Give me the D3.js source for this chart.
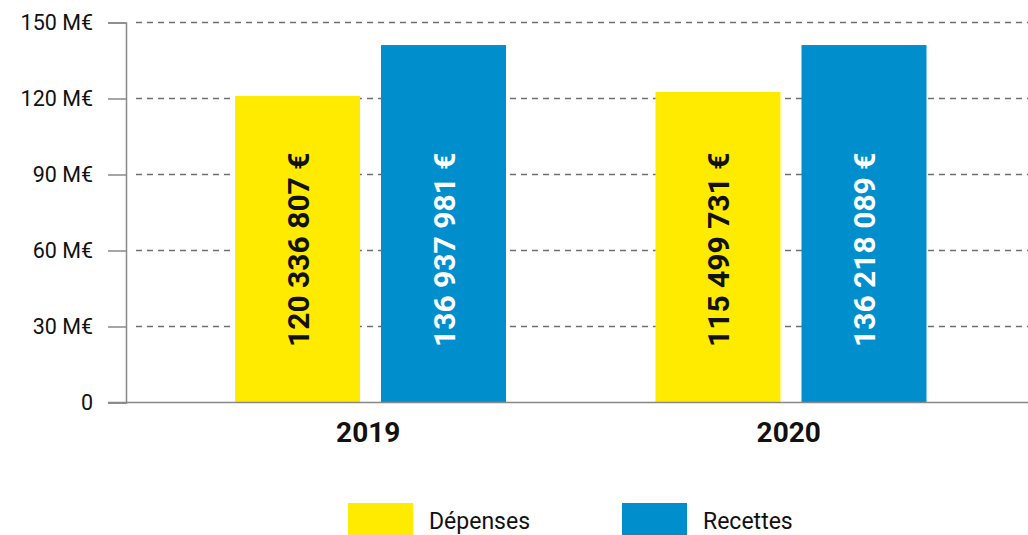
<!DOCTYPE html>
<html><head><meta charset="utf-8">
<script src="https://cdn.jsdelivr.net/npm/d3@7"></script>
<style>html,body{margin:0;padding:0;background:#fff;}svg{display:block;}</style>
</head><body>
<svg id="c" width="1028" height="535"></svg>
<script>
const years = ["2019", "2020"];
const seriesNames = ["Dépenses", "Recettes"];
const depenses = [121.0, 122.6];
const recettes = [141.1, 141.1];
const depensesLabels = ["120 336 807 €", "115 499 731 €"];
const recettesLabels = ["136 937 981 €", "136 218 089 €"];
const yTicks = [0, 30, 60, 90, 120, 150];
const colors = ["#FFEB00", "#008FCC"];
const labelColors = ["#111", "#fff"];

const svg = d3.select("#c");
const font = "Roboto, 'Open Sans', sans-serif";

const y = d3.scaleLinear().domain([0, 150]).range([402.5, 22.5]);
const x0 = d3.scaleBand().domain(years).range([160, 1001]).padding(0);
const x1 = d3.scaleBand().domain(seriesNames).range([75, 346]).paddingInner(21 / 146).paddingOuter(0);

// gridlines
svg.append("g").selectAll("line").data(yTicks.filter(d => d > 0)).join("line")
  .attr("x1", 136).attr("x2", 1028)
  .attr("y1", d => y(d)).attr("y2", d => y(d))
  .attr("stroke", "#707070").attr("stroke-width", 1.3).attr("stroke-dasharray", "6,5");

// y axis
const yAxis = d3.axisLeft(y).tickValues(yTicks).tickSize(18).tickPadding(15)
  .tickFormat(d => d === 0 ? "0" : d + " M€");
const ga = svg.append("g").attr("transform", "translate(126,0)").call(yAxis);
ga.select(".domain").attr("stroke", "#888").attr("stroke-width", 1.5);
ga.selectAll(".tick line").attr("stroke", "#888").attr("stroke-width", 1.5);
ga.selectAll(".tick text").attr("font-family", font).attr("font-size", 21.5).attr("fill", "#111");

// bars
const rows = years.map((yr, i) => ({ year: yr, vals: [
  { s: seriesNames[0], v: depenses[i], lab: depensesLabels[i], k: 0 },
  { s: seriesNames[1], v: recettes[i], lab: recettesLabels[i], k: 1 }
]}));
const grp = svg.append("g").selectAll("g").data(rows).join("g")
  .attr("transform", d => `translate(${x0(d.year)},0)`);
grp.selectAll("rect").data(d => d.vals).join("rect")
  .attr("x", d => x1(d.s)).attr("width", x1.bandwidth())
  .attr("y", d => y(d.v)).attr("height", d => y(0) - y(d.v))
  .attr("fill", d => colors[d.k]);
grp.selectAll("text.val").data(d => d.vals).join("text").attr("class", "val")
  .attr("transform", d => `translate(${x1(d.s) + x1.bandwidth() / 2 + 11},347) rotate(-90)`)
  .attr("text-anchor", "start")
  .attr("font-family", font).attr("font-weight", 700).attr("font-size", 30)
  .attr("fill", d => labelColors[d.k]).text(d => d.lab);

// baseline
svg.append("line").attr("x1", 108).attr("x2", 1028).attr("y1", y(0)).attr("y2", y(0))
  .attr("stroke", "#888").attr("stroke-width", 1.5);

// x labels
svg.append("g").selectAll("text").data(years).join("text")
  .attr("x", d => x0(d) + x0.bandwidth() / 2 - 2).attr("y", 442)
  .attr("text-anchor", "middle").attr("font-family", font).attr("font-weight", 700)
  .attr("font-size", 28).attr("fill", "#111").text(d => d);

// legend
const legX = [348, 622];
const lg = svg.append("g").selectAll("g").data(seriesNames).join("g")
  .attr("transform", (d, i) => `translate(${legX[i]},503)`);
lg.append("rect").attr("width", 65).attr("height", 34).attr("fill", (d, i) => colors[i]);
lg.append("text").attr("x", 81).attr("y", 26).attr("font-family", font)
  .attr("font-size", 23).attr("fill", "#111").text(d => d);
</script>
</body></html>
